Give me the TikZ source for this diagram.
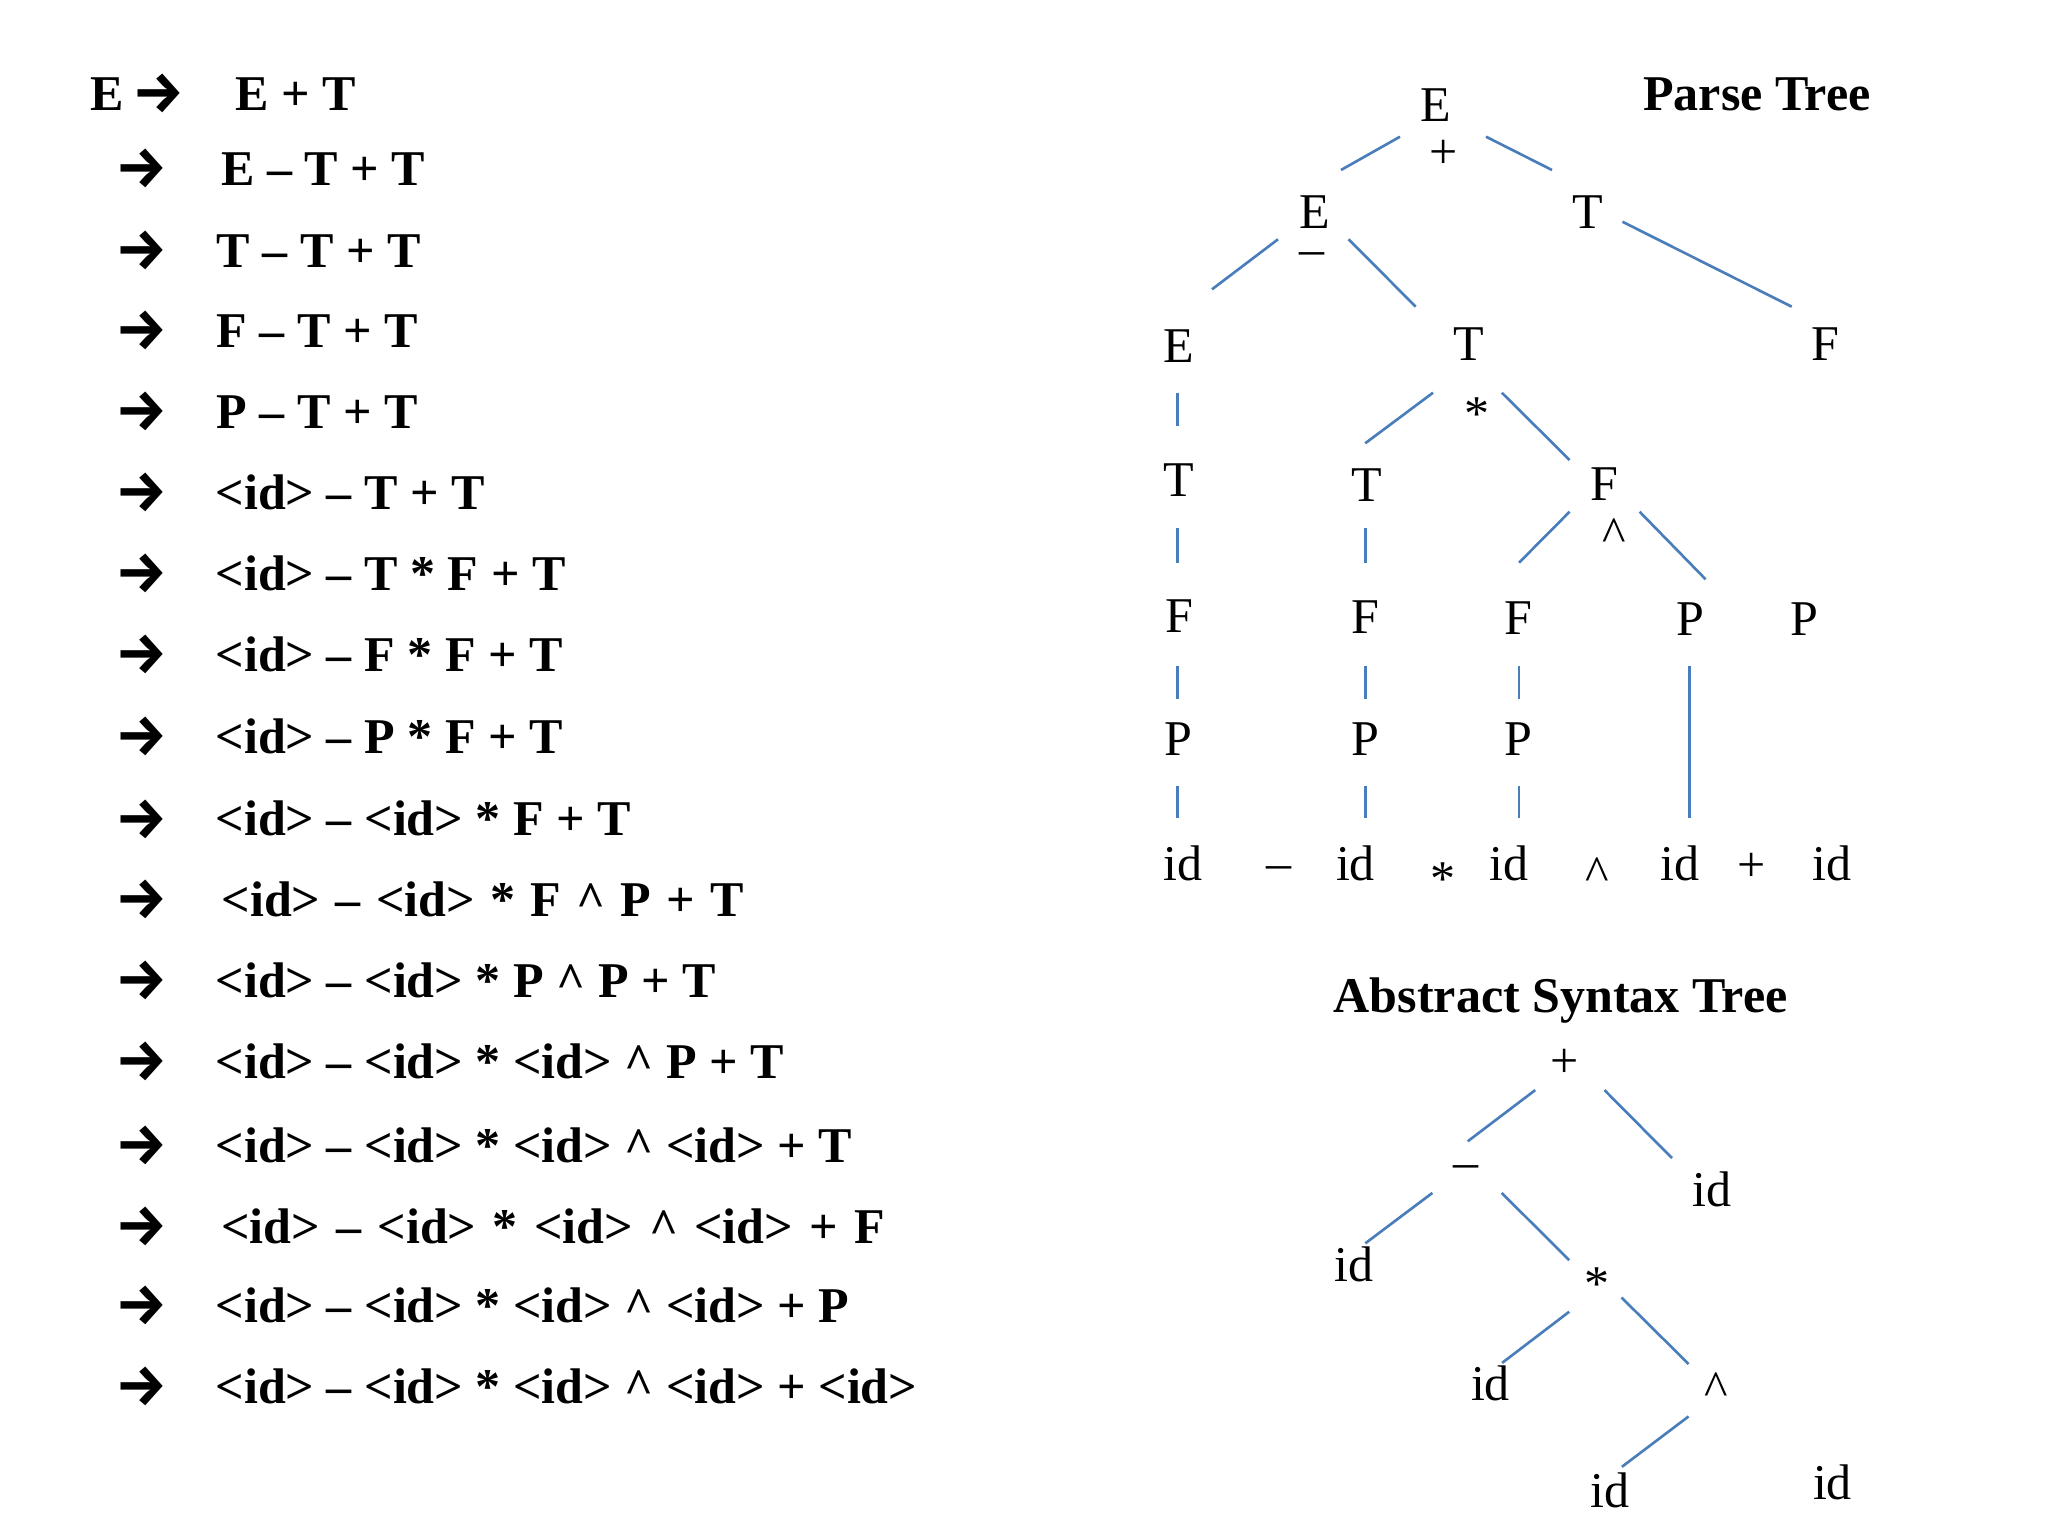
\documentclass[tikz,border=0pt]{standalone}
\usepackage{fontspec}
\setmainfont{Liberation Serif}
\newfontfamily\arrowfont{Fira Sans}
\usepackage{graphicx}
\definecolor{edgeblue}{RGB}{74,126,187}
\newcommand\crt{\textasciicircum}
\newcommand\drvarrow{{\arrowfont\bfseries\fontsize{16.5}{20}\selectfont →}}
\newcommand\seg[3]{\coordinate (#1-a) at #2; \coordinate (#1-b) at #3; \draw[edge] (#1-a) -- (#1-b);}
\tikzset{
  lt/.style={font=\fontsize{14.23}{17}\selectfont\bfseries, inner sep=0pt, anchor=base west},
  arr/.style={inner sep=0pt, anchor=center},
  tn/.style={font=\fontsize{14.23}{17}\selectfont, inner sep=0pt, anchor=base},
  ttl/.style={font=\fontsize{14.23}{17}\selectfont\bfseries, inner sep=0pt, anchor=base west},
  edge/.style={draw=edgeblue, line width=0.75pt},
}
\begin{document}
\begin{tikzpicture}[x=0.01cm, y=-0.01cm]
\useasboundingbox[fill=white] (0,0) rectangle (2048,1536);
% ---------------- derivation ----------------
\node[lt] (l1s) at (90,110) {E};
\node[arr] (a1) at (159,93.3) {\drvarrow};
\node[lt] (l1) at (235,110) {E + T};
\foreach \n/\y/\x/\t in {
 2/168.3/220.7/{E – T + T},
 3/250/216/{T – T + T},
 4/330/216/{F – T + T},
 5/411.7/216/{P – T + T},
 6/492.4/215/{<id> – T + T},
 7/573.3/215/{<id> – T * F + T},
 8/654.3/215/{<id> – F * F + T},
 9/736.6/215/{<id> – P * F + T},
 10/818.9/215/{<id> – <id> * F + T},
 11/899.8/221/{\makebox[5.22cm][s]{<id> – <id> * F \crt{} P + T}},
 12/980.8/215/{<id> – <id> * P \crt{} P + T},
 13/1061.8/215/{<id> – <id> * <id> \crt{} P + T},
 14/1145/215/{<id> – <id> * <id> \crt{} <id> + T},
 15/1226.7/220.7/{\makebox[6.63cm][s]{<id> – <id> * <id> \crt{} <id> + F}},
 16/1305/215/{<id> – <id> * <id> \crt{} <id> + P},
 17/1386.7/215/{<id> – <id> * <id> \crt{} <id> + <id>}}{
  \node[arr] (a\n) at (141.8,\y) {\drvarrow};
  \node[lt] (l\n) at (\x,\y+17) {\t};
}
% ---------------- parse tree ----------------
\node[ttl] (ptitle) at (1642.5,110) {Parse Tree};
\node[tn] (pE) at (1436,121.5) {E};
\node[tn] (pplus) at (1444,168.5) {+};
\node[tn] (pE2) at (1315,228) {E};
\node[tn] (pminus) at (1312,265) {–};
\node[tn] (pT2) at (1588,228) {T};
\node[tn] (pE3) at (1179,362.5) {E};
\node[tn] (pT3) at (1469,360) {T};
\node[tn] (pF3) at (1825,360) {F};
\node[tn] (pstar) at (1477,430) {*};
\node[tn] (pT4a) at (1179,496.5) {T};
\node[tn] (pT4b) at (1367,501.5) {T};
\node[tn] (pF4) at (1604,500) {F};
\node[tn] (pcaret) at (1614,551) {\crt};
\node[tn] (pF5a) at (1179,632.5) {F};
\node[tn] (pF5b) at (1365,633) {F};
\node[tn] (pF5c) at (1518,634) {F};
\node[tn] (pP5a) at (1690,635) {P};
\node[tn] (pP5b) at (1804,635) {P};
\node[tn] (pP6a) at (1178,755) {P};
\node[tn] (pP6b) at (1365,755.5) {P};
\node[tn] (pP6c) at (1518,755.5) {P};
\node[tn] (lf1) at (1183,880) {id};
\node[tn] (lf2) at (1279,879) {–};
\node[tn] (lf3) at (1355.5,880) {id};
\node[tn] (lf4) at (1443,895) {*};
\node[tn] (lf5) at (1509,880) {id};
\node[tn] (lf6) at (1597,890) {\crt};
\node[tn] (lf7) at (1680,880) {id};
\node[tn] (lf8) at (1752,881) {+};
\node[tn] (lf9) at (1832,880) {id};
\seg{p1}{(1400,136.7)}{(1341,170)}
\seg{p2}{(1486,136.7)}{(1552,170)}
\seg{p3}{(1278,239.3)}{(1212,289.3)}
\seg{p4}{(1348.6,239.3)}{(1415.7,306.7)}
\seg{p5}{(1622.4,221.7)}{(1791.7,306.7)}
\seg{p6}{(1177.5,392.7)}{(1177.5,426)}
\seg{p7}{(1433,392.7)}{(1365.2,443.3)}
\seg{p8}{(1501.8,392.7)}{(1569.6,460)}
\seg{p9}{(1177.5,528.3)}{(1177.5,562.7)}
\seg{p10}{(1365.2,528.3)}{(1365.2,562.7)}
\seg{p11}{(1569.6,511.7)}{(1519,562.7)}
\seg{p12}{(1639.6,511.7)}{(1705.6,579.3)}
\seg{p13}{(1177.5,665.7)}{(1177.5,699)}
\seg{p14}{(1365.2,665.7)}{(1365.2,699)}
\seg{p15}{(1519,665.7)}{(1519,699)}
\seg{p16}{(1689.6,665.7)}{(1689.6,818.3)}
\seg{p17}{(1177.5,785.7)}{(1177.5,818.3)}
\seg{p18}{(1365.2,785.7)}{(1365.2,818.3)}
\seg{p19}{(1519,785.7)}{(1519,818.3)}
% ---------------- abstract syntax tree ----------------
\node[ttl] (atitle) at (1333,1012) {Abstract Syntax Tree};
\node[tn] (aplus) at (1565,1077) {+};
\node[tn] (aminus) at (1466,1178) {–};
\node[tn] (aid1) at (1712,1206) {id};
\node[tn] (aid2) at (1354,1281) {id};
\node[tn] (astar) at (1597,1300.5) {*};
\node[tn] (aid3) at (1490.5,1400.5) {id};
\node[tn] (acaret) at (1716,1405.6) {\crt};
\node[tn] (aid4) at (1610,1507) {id};
\node[tn] (aid5) at (1832.5,1499.5) {id};
\seg{a1}{(1535.2,1090.1)}{(1467.7,1141.3)}
\seg{a2}{(1604.5,1090.1)}{(1672,1158.1)}
\seg{a3}{(1432.4,1192.9)}{(1365.3,1243.3)}
\seg{a4}{(1501.7,1192.9)}{(1569.2,1260.2)}
\seg{a5}{(1569.2,1311.7)}{(1502.1,1362.9)}
\seg{a6}{(1621.5,1297.5)}{(1688.6,1364)}
\seg{a7}{(1688.6,1416.4)}{(1621.9,1466.8)}
\end{tikzpicture}
\end{document}
